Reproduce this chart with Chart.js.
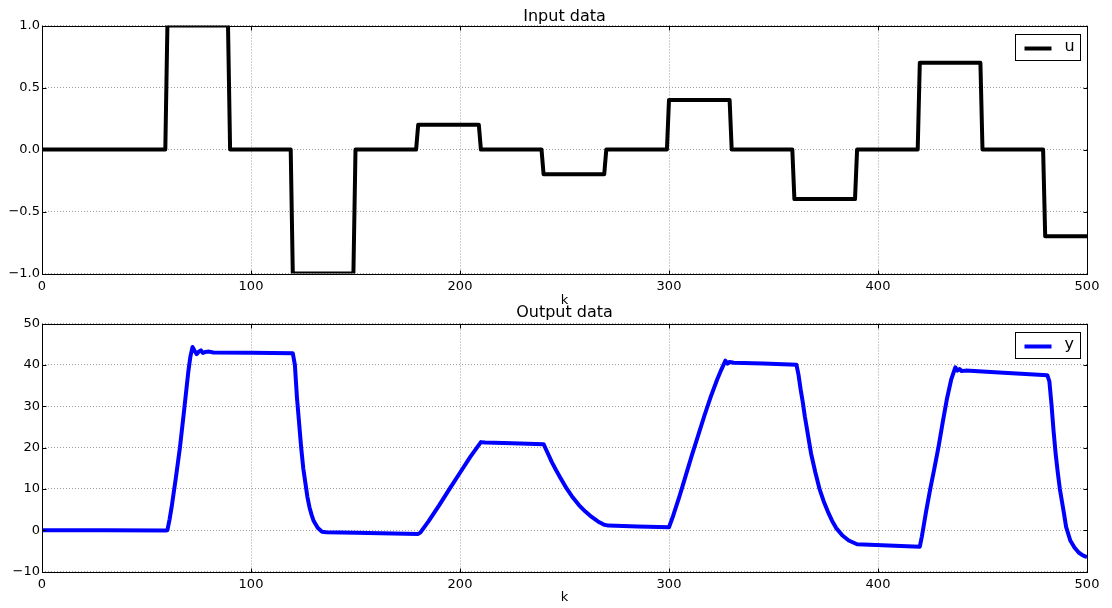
<!DOCTYPE html>
<html>
<head>
<meta charset="utf-8">
<script src="https://cdn.jsdelivr.net/npm/chart.js@4.4.0/dist/chart.umd.min.js"></script>
<style>
  html, body { margin: 0; padding: 0; background: #fff; }
  #wrap { position: relative; width: 1112px; height: 608px; }
  canvas { position: absolute; left: 0; top: 0; }
</style>
</head>
<body>
<div id="wrap">
  <canvas id="inputChart" width="1112" height="608"></canvas>
  <canvas id="outputChart" width="1112" height="608"></canvas>
</div>
<script>
// ---- Input signal u: piecewise-constant level held from each start sample ----
const uSegmentStart = [0, 60, 90, 120, 150, 180, 210, 240, 270, 300, 330, 360, 390, 420, 450, 480];
const uSegmentLevel = [0, 1.0, 0, -1.0, 0, 0.2, 0, -0.2, 0, 0.4, 0, -0.4, 0, 0.7, 0, -0.7];
const kLast = 500;

// ---- Output y, sampled at k ----
const yK = [
  0, 30, 59, 60, 61, 62, 64, 66, 68, 70, 71, 72, 73, 74, 75, 76, 77, 78, 80, 82, 100, 120,
  121, 122, 123, 124, 125, 126, 127, 128, 129, 130, 132, 134, 136, 150, 180,
  181, 185, 190, 195, 200, 205, 210, 212, 225, 240,
  242, 244, 246, 248, 251, 254, 257, 260, 263, 266, 269, 271, 285, 300,
  302, 305, 308, 311, 314, 317, 320, 323, 325, 327, 328, 329, 331, 345, 361,
  362, 363, 364, 365, 366, 367, 368, 370, 372, 374, 376, 378, 380, 383, 386, 390, 405, 420,
  421, 422, 423, 425, 427, 429, 431, 433, 435, 437, 438, 439, 440, 442, 460, 481,
  482, 483, 484, 485, 486, 487, 488, 489, 490, 492, 494, 496, 498, 500
];
const yVal = [
  0, 0, -0.1, 0, 2.5, 5.5, 12.5, 20, 29, 38.3, 42, 44.3, 43.4, 42.6, 43.2, 43.5, 42.9, 43.1, 43.2, 43.0, 42.9, 42.8,
  40, 32, 26, 20, 15, 11.5, 8, 5.5, 3.7, 2.2, 0.5, -0.4, -0.5, -0.6, -0.9,
  -0.6, 2.2, 6.0, 10.0, 13.9, 17.8, 21.3, 21.2, 21.0, 20.8,
  18.6, 16.4, 14.5, 12.7, 10.1, 7.9, 6.0, 4.5, 3.2, 2.1, 1.3, 1.1, 0.9, 0.7,
  3.5, 8.2, 13.2, 18.2, 23, 27.8, 32.3, 36.4, 38.8, 41, 40.3, 40.7, 40.5, 40.3, 40.0,
  37.5, 34, 31, 27.5, 24.5, 21.5, 18.5, 14, 10, 7, 4.5, 2.3, 0.5, -1.3, -2.5, -3.4, -3.7, -4.0,
  -1.5, 1.5, 4.5, 10, 15, 20.3, 26.2, 31.8, 36.4, 39.4, 38.6, 39.0, 38.5, 38.6, 38.1, 37.5,
  36, 30.5, 24, 18.5, 14, 10, 7, 4, 0.8, -2.5, -4.2, -5.4, -6.1, -6.5
];

// ---- Tick values ----
const kTicks = [0, 100, 200, 300, 400, 500];
const uTicks = [-1.0, -0.5, 0.0, 0.5, 1.0];
const yTicks = [-10, 0, 10, 20, 30, 40, 50];

const FONT = "'DejaVu Sans', sans-serif";
const GRID = 'rgba(0,0,0,0.38)';
const minus = s => s.replace('-', '\u2212');

// u as points: each level runs from its start sample to the sample before the next start
const uPoints = [];
uSegmentStart.forEach((s, i) => {
  const end = i + 1 < uSegmentStart.length ? uSegmentStart[i + 1] - 1 : kLast;
  uPoints.push({ x: s, y: uSegmentLevel[i] });
  uPoints.push({ x: end, y: uSegmentLevel[i] });
});
const yPoints = yK.map((k, i) => ({ x: k, y: yVal[i] }));

// Box around the plot area, inward tick marks on all four sides, boxed legend
const axesDecor = {
  id: 'axesDecor',
  afterDatasetsDraw(chart) {
    const { ctx, chartArea: a, scales } = chart;
    ctx.save();
    ctx.strokeStyle = '#000';
    ctx.lineWidth = 1;
    const L = Math.round(a.left) + 0.5, R = Math.round(a.right) + 0.5;
    const T = Math.round(a.top) + 0.5, B = Math.round(a.bottom) + 0.5;
    ctx.strokeRect(L, T, R - L, B - T);
    ctx.beginPath();
    scales.x.ticks.forEach(t => {
      const px = Math.round(scales.x.getPixelForValue(t.value)) + 0.5;
      ctx.moveTo(px, B); ctx.lineTo(px, B - 4);
      ctx.moveTo(px, T); ctx.lineTo(px, T + 4);
    });
    scales.y.ticks.forEach(t => {
      const py = Math.round(scales.y.getPixelForValue(t.value)) + 0.5;
      ctx.moveTo(L, py); ctx.lineTo(L + 4, py);
      ctx.moveTo(R, py); ctx.lineTo(R - 4, py);
    });
    ctx.stroke();

    // legend box
    const ds = chart.data.datasets[0];
    const bw = 65, bh = 26;
    const bx = Math.round(a.right - 7 - bw) + 0.5, by = Math.round(a.top + 8) + 0.5;
    ctx.fillStyle = '#fff';
    ctx.fillRect(bx, by, bw, bh);
    ctx.strokeStyle = '#000';
    ctx.lineWidth = 1;
    ctx.strokeRect(bx, by, bw, bh);
    ctx.beginPath();
    ctx.strokeStyle = ds.borderColor;
    ctx.lineWidth = 4;
    ctx.moveTo(bx + 9, by + 14);
    ctx.lineTo(bx + 36, by + 14);
    ctx.stroke();
    ctx.fillStyle = '#000';
    ctx.font = '16px ' + FONT;
    ctx.textBaseline = 'middle';
    ctx.textAlign = 'left';
    ctx.fillText(ds.label, bx + 49, by + 12);
    ctx.restore();
  }
};

function makeChart(id, cfg) {
  return new Chart(document.getElementById(id), {
    type: 'line',
    data: {
      datasets: [{
        label: cfg.label,
        data: cfg.points,
        borderColor: cfg.color,
        borderWidth: 4,
        pointRadius: 0,
        tension: 0,
        fill: false,
        borderJoinStyle: 'round'
      }]
    },
    options: {
      responsive: false,
      animation: false,
      events: [],
      parsing: false,
      layout: { padding: { left: 0, right: 25, top: cfg.padTop, bottom: cfg.padBottom } },
      plugins: {
        legend: { display: false },
        tooltip: { enabled: false },
        title: {
          display: true,
          fullSize: false,
          text: cfg.title,
          color: '#000',
          font: { family: FONT, size: 16, weight: 'normal' },
          padding: { top: cfg.titleTop, bottom: cfg.titleGap }
        }
      },
      scales: {
        x: {
          type: 'linear',
          min: 0,
          max: kLast,
          afterBuildTicks: s => { s.ticks = kTicks.map(v => ({ value: v })); },
          afterFit: s => { s.height = cfg.xHeight; },
          grid: { color: GRID, lineWidth: 1, drawTicks: false },
          border: { display: false, dash: [1, 2] },
          ticks: {
            color: '#000',
            font: { family: FONT, size: 13 },
            padding: 5,
            maxRotation: 0,
            callback: v => String(v)
          },
          title: {
            display: true,
            text: 'k',
            color: '#000',
            font: { family: FONT, size: 13 },
            padding: 0
          }
        },
        y: {
          type: 'linear',
          min: cfg.yTicks[0],
          max: cfg.yTicks[cfg.yTicks.length - 1],
          afterBuildTicks: s => { s.ticks = cfg.yTicks.map(v => ({ value: v })); },
          afterFit: s => { s.width = 42; },
          grid: { color: GRID, lineWidth: 1, drawTicks: false },
          border: { display: false, dash: [1, 2] },
          ticks: {
            color: '#000',
            font: { family: FONT, size: 13 },
            padding: 2,
            callback: cfg.fmt
          }
        }
      }
    },
    plugins: [axesDecor]
  });
}

makeChart('inputChart', {
  label: 'u',
  title: 'Input data',
  points: uPoints,
  color: '#000000',
  yTicks: uTicks,
  fmt: v => minus(v.toFixed(1)),
  padTop: 0,
  titleTop: 7,
  titleGap: -0.7,
  xHeight: 34.5,
  padBottom: 300
});

makeChart('outputChart', {
  label: 'y',
  title: 'Output data',
  points: yPoints,
  color: '#0000ff',
  yTicks: yTicks,
  fmt: v => minus(String(v)),
  padTop: 297.5,
  titleTop: 6,
  titleGap: 0.8,
  xHeight: 34,
  padBottom: 2.5
});
</script>
</body>
</html>
